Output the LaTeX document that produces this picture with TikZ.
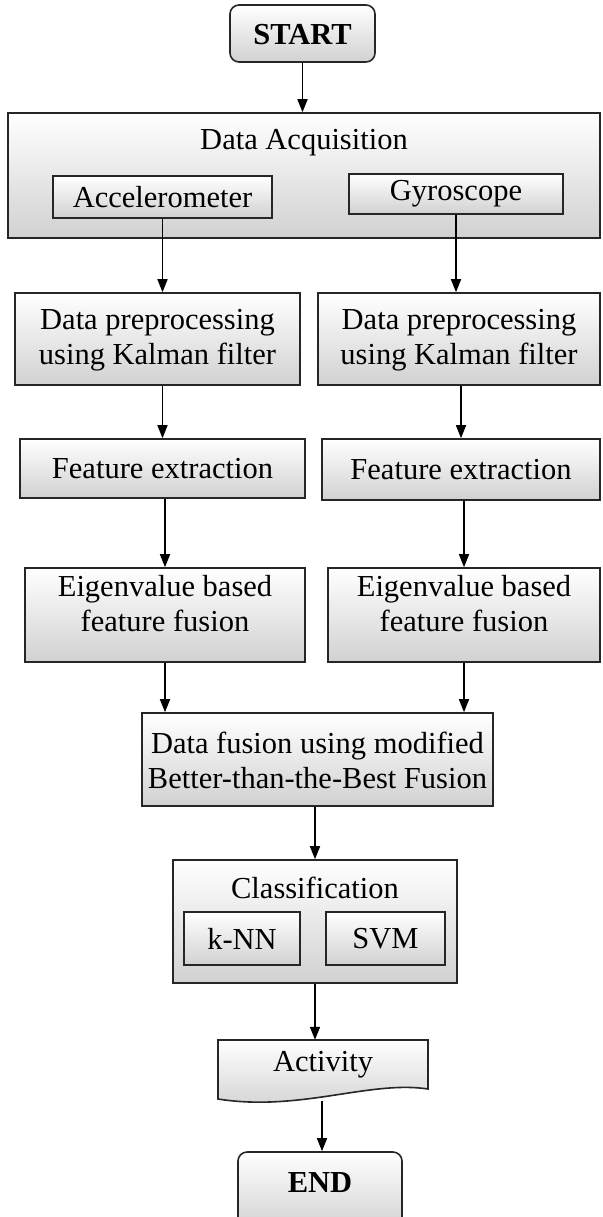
\documentclass[tikz,border=0pt]{standalone}
\usepackage{fontspec}
\setmainfont{Liberation Serif}
\usetikzlibrary{arrows.meta}
\begin{document}
\begin{tikzpicture}[x=1pt,y=-1pt,
  box/.style={draw=black!85, line width=1.6pt, top color=white, bottom color=black!18, rectangle, inner sep=0pt},
  txt/.style={font=\fontsize{30.5}{35}\selectfont, align=center, inner sep=0pt},
  term/.style={box, rounded corners=9pt},
  arr/.style={line width=1.6pt, -{Triangle[length=13pt,width=10pt]}}]
\useasboundingbox (0,0) rectangle (602,1217);
% START
\node[term, minimum width=145pt, minimum height=57pt] (start) at (302.5,33.5) {};
\node[txt, font=\fontsize{30.5}{35}\selectfont\bfseries] (startt) at (302.5,35) {START};
% Data acquisition
\node[box, minimum width=592pt, minimum height=125pt] (acq) at (304,175.5) {};
\node[txt] (acqt) at (304,143) {Data Acquisition};
\node[box, minimum width=219pt, minimum height=42pt] (acc) at (162.5,197) {};
\node[txt] (acct) at (162.5,197) {Accelerometer};
\node[box, minimum width=214pt, minimum height=40pt] (gyr) at (456,194) {};
\node[txt] (gyrt) at (456,194) {Gyroscope};
% Preprocessing
\node[box, minimum width=285pt, minimum height=92pt] (dp1) at (157.5,339) {};
\node[txt] (dp1t) at (157.5,340) {Data preprocessing\\using Kalman filter};
\node[box, minimum width=282pt, minimum height=92pt] (dp2) at (459,339) {};
\node[txt] (dp2t) at (459,340) {Data preprocessing\\using Kalman filter};
% Feature extraction
\node[box, minimum width=285pt, minimum height=59pt] (fe1) at (162.5,468.5) {};
\node[txt] (fe1t) at (162.5,468.5) {Feature extraction};
\node[box, minimum width=278pt, minimum height=61pt] (fe2) at (461,469.5) {};
\node[txt] (fe2t) at (461,469.5) {Feature extraction};
% Eigenvalue
\node[box, minimum width=280pt, minimum height=94pt] (ev1) at (165,615) {};
\node[txt] (ev1t) at (165,604) {Eigenvalue based\\feature fusion};
\node[box, minimum width=272pt, minimum height=94pt] (ev2) at (464,615) {};
\node[txt] (ev2t) at (464,604) {Eigenvalue based\\feature fusion};
% Data fusion
\node[box, minimum width=351pt, minimum height=93pt] (df) at (317.5,759.5) {};
\node[txt] (dft) at (317.5,760) {Data fusion using modified\\Better-than-the-Best Fusion};
% Classification
\node[box, minimum width=284pt, minimum height=123pt] (cls) at (315,921.5) {};
\node[txt] (clst) at (315,888) {Classification};
\node[box, minimum width=116pt, minimum height=53pt] (knn) at (242,938.5) {};
\node[txt] (knnt) at (242,938.5) {k-NN};
\node[box, minimum width=119pt, minimum height=53pt] (svm) at (385.5,938.5) {};
\node[txt] (svmt) at (385.5,938.5) {SVM};
% Activity (document shape)
\shade[top color=white, bottom color=black!18, draw=black!85, line width=1.6pt]
  (218,1040) -- (428,1040) -- (428,1089) .. controls (370,1080) and (300,1112) .. (218,1099) -- cycle;
\node[inner sep=0pt, minimum width=210pt, minimum height=60pt] (act) at (323,1070) {};
\node[txt] (actt) at (323,1065) {Activity};
\coordinate (actb) at (322,1101);
% END
\node[term, minimum width=164pt, minimum height=80pt] (end) at (320,1192) {};
\node[txt, font=\fontsize{30.5}{35}\selectfont\bfseries] (endt) at (320,1183) {END};
% Connectors
\draw[arr] (start.south) -- (start.south |- acq.north);
\draw[arr] (acc.south) -- (acc.south |- dp1.north);
\draw[arr] (gyr.south) -- (gyr.south |- dp2.north);
\draw[arr] (fe1.north |- dp1.south) -- (fe1.north);
\draw[arr] (fe2.north |- dp2.south) -- (fe2.north);
\draw[arr] (fe1.south -| ev1.north) -- (ev1.north);
\draw[arr] (fe2.south -| ev2.north) -- (ev2.north);
\draw[arr] (ev1.south) -- (ev1.south |- df.north);
\draw[arr] (ev2.south) -- (ev2.south |- df.north);
\draw[arr] (df.south -| cls.north) -- (cls.north);
\draw[arr] (cls.south) -- (cls.south |- act.north);
\draw[arr] (actb) -- (actb |- end.north);
\end{tikzpicture}
\end{document}
